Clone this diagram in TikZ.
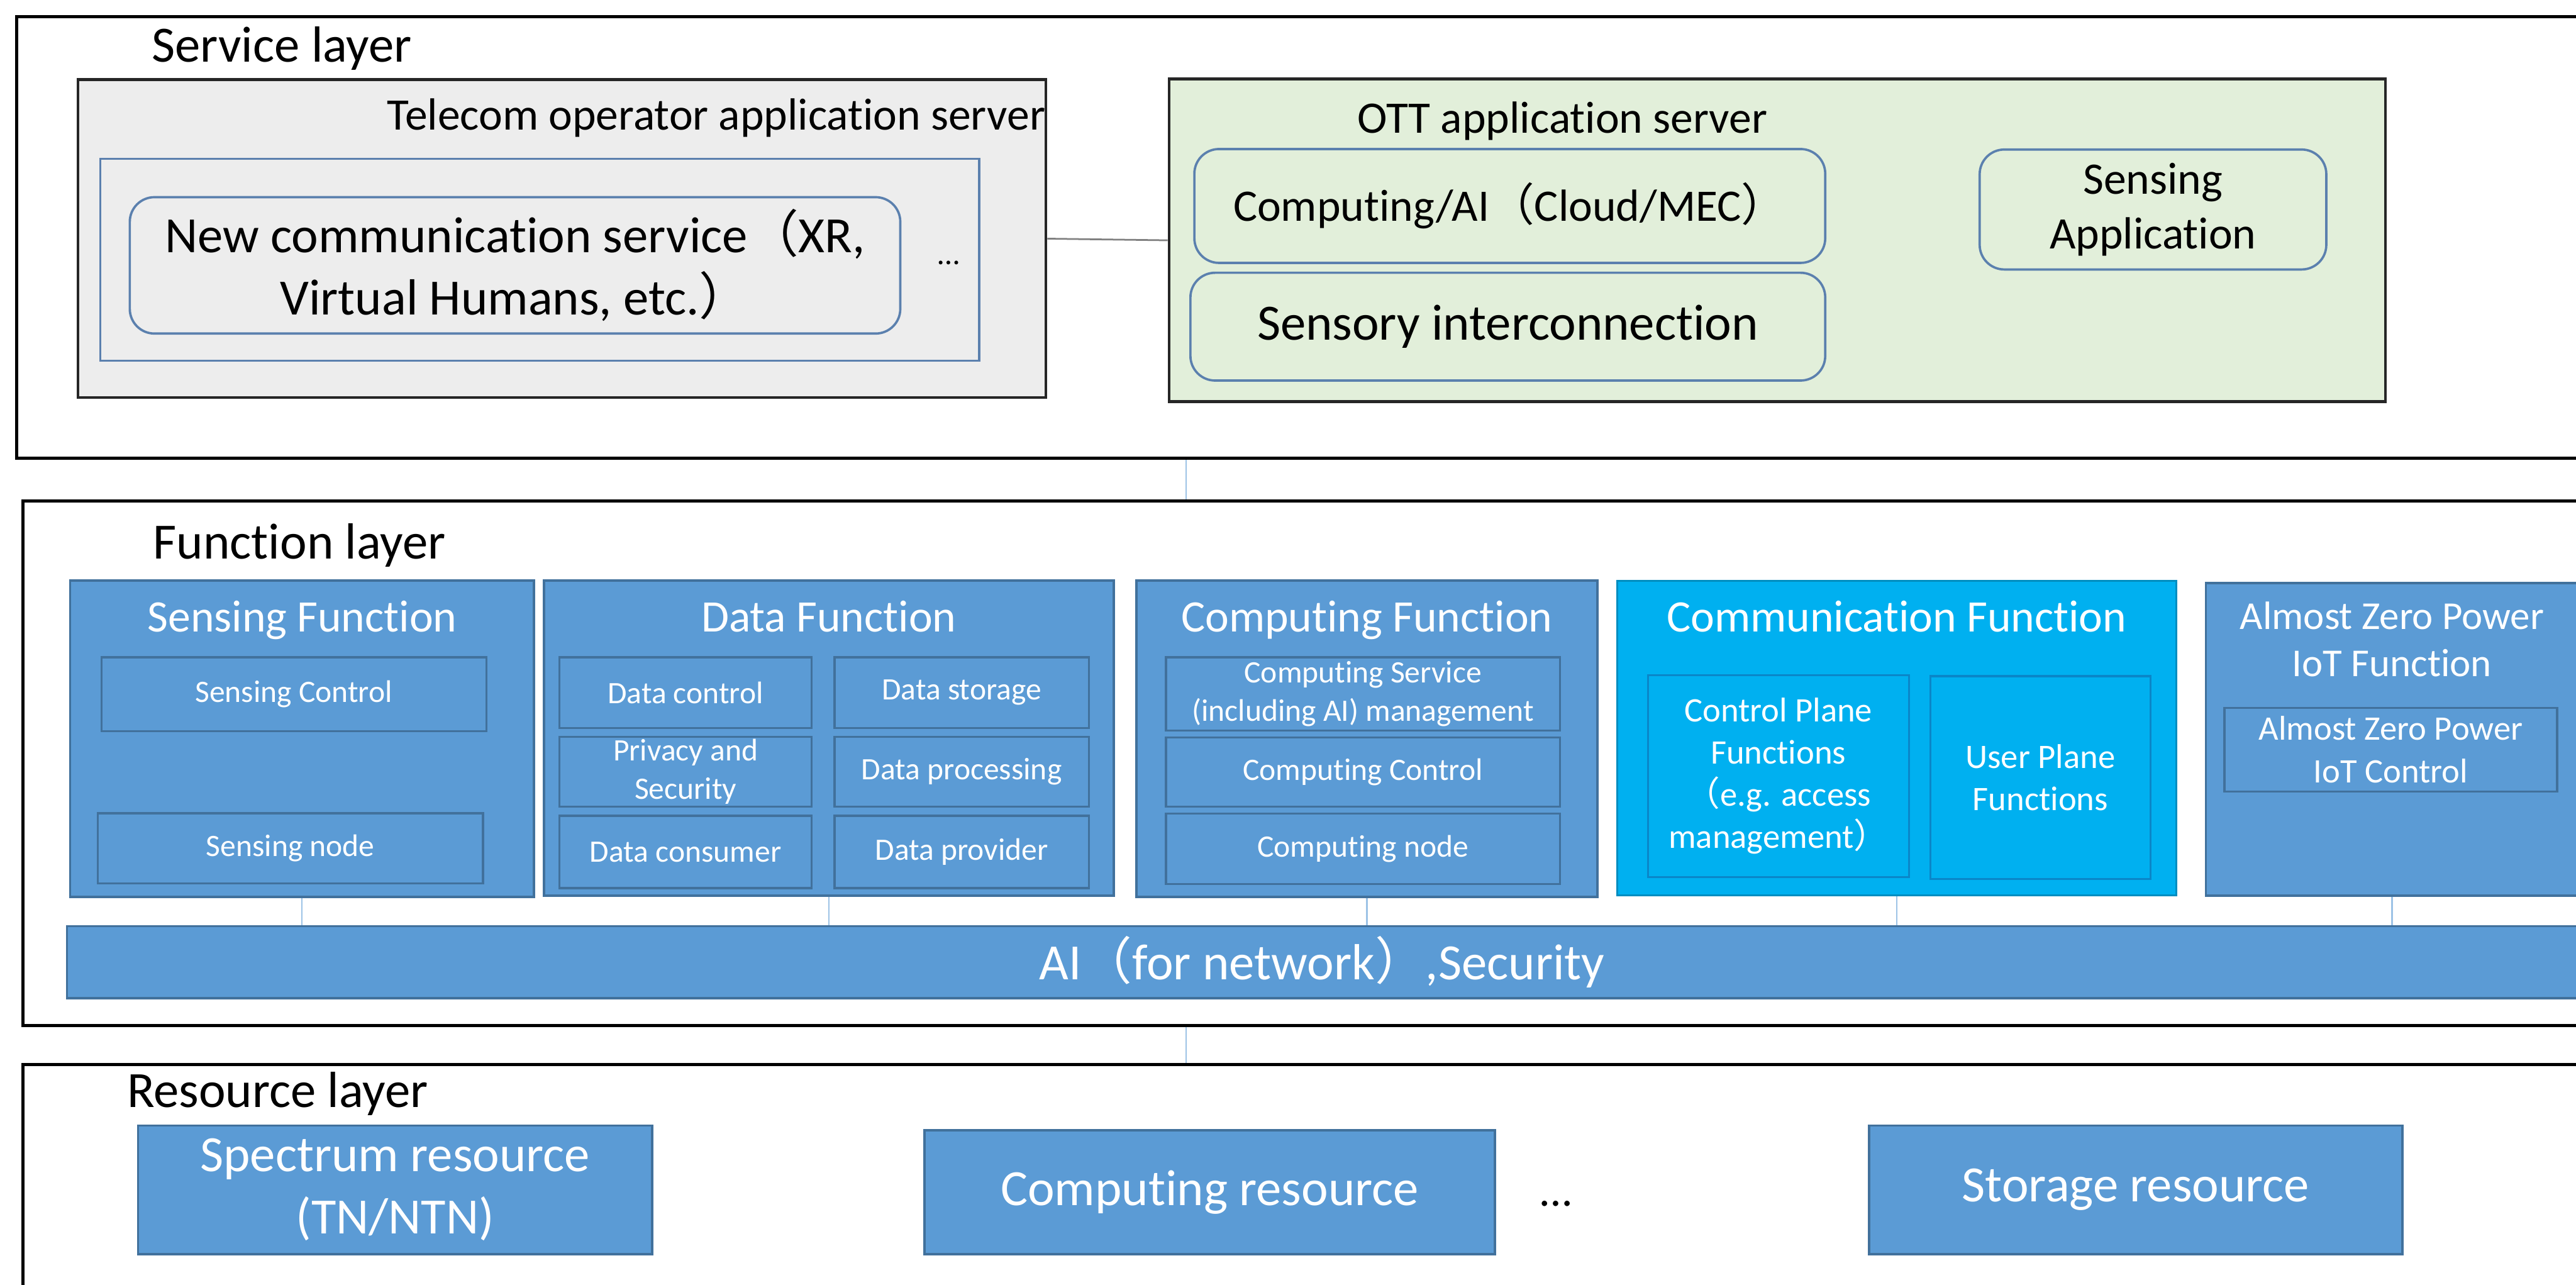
\documentclass[tikz,border=0pt]{standalone}
\usepackage{fontspec}
\setmainfont{Carlito}[Ligatures=NoCommon]
\newfontfamily\cjk{Noto Sans CJK SC}
\newcommand\lpar{{\cjk （}}
\newcommand\rpar{{\cjk ）}}
\newcommand\fsL{\fontsize{17.6pt}{21.5pt}\selectfont}
\newcommand\fsM{\fontsize{15.6pt}{19pt}\selectfont}
\newcommand\fsA{\fontsize{13.7pt}{16.2pt}\selectfont}
\newcommand\fsS{\fontsize{11.9pt}{14.6pt}\selectfont}
\newcommand\fsX{\fontsize{10.8pt}{13.2pt}\selectfont}
% \bx{style}{name}{x1}{y1}{x2}{y2}{text}
\newcommand\bx[7]{\node[#1, minimum width={(#5-#3)*0.02cm}, minimum height={(#6-#4)*0.02cm}] (#2) at ({(#3+#5)/2},{(#4+#6)/2}) {#7};}
\definecolor{srvgray}{HTML}{EDEDED}
\definecolor{ottgreen}{HTML}{E2EFDA}
\definecolor{rndblue}{HTML}{5B80AE}
\definecolor{fblue}{HTML}{5B9BD5}
\definecolor{fbluedark}{HTML}{41719C}
\definecolor{commfill}{HTML}{00B0F0}
\definecolor{commdark}{HTML}{0A86C8}
\definecolor{thinblue}{HTML}{9DC3E6}
\tikzset{
  frame/.style={draw=black, line width=1.1pt, fill=white, inner sep=0pt},
  srv/.style={draw=black!85, line width=1pt, inner sep=0pt},
  rbox/.style={draw=rndblue, line width=0.8pt, rounded corners=0.3cm, inner sep=0pt, align=center},
  lbl/.style={inner sep=0pt, font=\fsL},
  fbox/.style={draw=fbluedark, line width=0.8pt, fill=fblue, inner sep=0pt, text=white, align=center},
  cbox/.style={draw=commfill!80!black, line width=0.6pt, fill=commfill, inner sep=0pt, text=white, align=center},
  subbox/.style={draw=fbluedark, line width=0.7pt, inner sep=0pt, text=white, font=\fsX, align=center},
  csub/.style={draw=commdark, line width=0.7pt, inner sep=0pt, text=white, font=\fsS, align=center},
  ttl/.style={inner sep=0pt, text=white, font=\fsM},
  grayline/.style={draw=black!50, line width=0.6pt},
  blueline/.style={draw=thinblue, line width=0.5pt}
}
\begin{document}
\begin{tikzpicture}[x=0.02cm,y=-0.02cm]
\useasboundingbox (0,0) rectangle (1568,782);
\clip (0,0) rectangle (1568,782);

% ---------------- Service layer ----------------
\bx{frame}{frameS}{10}{10}{1600}{279}{}
\node[lbl, anchor=base west] (tS) at (92,37.7) {Service layer};

\bx{srv, fill=srvgray}{tel}{47.5}{48.5}{636.6}{242}{}
\node[inner sep=0pt, font=\fsM, anchor=base east] (tTel) at (636.6,79) {Telecom operator application server};
\bx{draw=rndblue, line width=0.7pt, inner sep=0pt}{telin}{61}{96.6}{596}{219.5}{}
\bx{rbox, font=\fsL}{ncs}{79}{120}{548}{203}{New communication service\lpar XR,\\Virtual Humans, etc.\rpar}
\node[inner sep=0pt, font=\fsX, anchor=base] (dots1) at (577.5,161) {…};

\bx{srv, fill=ottgreen}{ott}{711.6}{48}{1452}{244.5}{}
\node[inner sep=0pt, font=\fsM, anchor=base west] (tOtt) at (826,81) {OTT application server};
\bx{rbox, font=\fsM}{cai}{727}{90.7}{1111}{160}{Computing/AI\lpar Cloud/MEC\rpar}
\bx{rbox, font=\fsL}{sic}{724.6}{166}{1111}{231.6}{Sensory interconnection}
\bx{rbox, font=\fsM}{sapp}{1205}{91}{1416}{164}{Sensing\\Application}

\draw[grayline] (tel.east) -- (ott.west);

% ---------------- Function layer ----------------
\bx{frame}{frameF}{14}{305}{1600}{624}{}
\node[lbl, anchor=base west] (tF) at (93,340) {Function layer};

\coordinate (vx) at (722,300);
\draw[blueline] (frameS.south -| vx) -- (frameF.north -| vx);

% Sensing Function
\bx{fbox}{sf}{42.7}{353.4}{325}{546}{}
\node[ttl, anchor=base] (sfT) at (184,384.6) {Sensing Function};
\bx{subbox}{sc}{61.7}{400}{296}{445}{Sensing Control}
\bx{subbox}{sn}{59.6}{495}{294}{537.7}{Sensing node}

% Data Function
\bx{fbox}{df}{331}{353.4}{678}{545}{}
\node[ttl, anchor=base] (dfT) at (504.5,384.6) {Data Function};
\bx{subbox}{dc}{340.6}{400}{494}{443}{Data control}
\bx{subbox}{ds}{508}{400}{662.7}{443}{Data storage}
\bx{subbox}{dps}{340.6}{448.4}{494}{490.9}{Privacy and\\Security}
\bx{subbox}{dpr}{508}{448.4}{662.7}{490.9}{Data processing}
\bx{subbox}{dcs}{340.6}{496.5}{494}{540.5}{Data consumer}
\bx{subbox}{dpv}{508}{496.5}{662.7}{540.5}{Data provider}

% Computing Function
\bx{fbox}{cf}{691.7}{353.4}{972.3}{546}{}
\node[ttl, anchor=base] (cfT) at (832,384.6) {Computing Function};
\bx{subbox}{csv}{709.7}{400}{949.5}{444.6}{Computing Service\\(including AI) management}
\bx{subbox}{cct}{709.7}{448.7}{949.5}{491}{Computing Control}
\bx{subbox}{cnd}{709.7}{495.2}{949.5}{538}{Computing node}

% Communication Function
\bx{cbox}{mf}{984.4}{353.4}{1324.7}{545}{}
\node[ttl, anchor=base] (mfT) at (1154.5,384.6) {Communication Function};
\bx{csub}{cpf}{1003}{410.8}{1162}{533.8}{Control Plane\\Functions\\\lpar e.g. access\\management\rpar}
\bx{csub}{upf}{1175}{411.5}{1309}{535}{User Plane\\Functions}

% Almost Zero Power IoT Function
\bx{fbox}{az}{1342.7}{354.8}{1569.3}{545}{}
\node[ttl, font=\fsA, align=center, anchor=north] (azT) at (1456,366) {Almost Zero Power\\IoT Function};
\bx{subbox, font=\fsS}{azc}{1354}{430.7}{1556.5}{481.7}{Almost Zero Power\\IoT Control}

% AI bar
\bx{fbox, font=\fsL}{ai}{40.8}{563.7}{1568.5}{607.4}{AI\lpar for network\rpar,Security}

\foreach \n in {sf,df,cf,mf,az}
  \draw[blueline] (\n.south) -- (\n.south |- ai.north);

% ---------------- Resource layer ----------------
\bx{frame}{frameR}{14}{648}{1600}{830}{}
\node[lbl, anchor=base west] (tR) at (77,674) {Resource layer};
\draw[blueline] (frameF.south -| vx) -- (frameR.north -| vx);

\bx{fbox, font=\fsL}{spec}{84}{685}{397}{763.3}{Spectrum resource\\(TN/NTN)}
\bx{fbox, font=\fsL}{compr}{562.7}{688}{910}{763.3}{Computing resource}
\node[inner sep=0pt, font=\fsM, anchor=base] (dots2) at (947,734) {…};
\bx{fbox, font=\fsL}{stor}{1137.6}{685}{1462.3}{763.3}{Storage resource}
\end{tikzpicture}
\end{document}
